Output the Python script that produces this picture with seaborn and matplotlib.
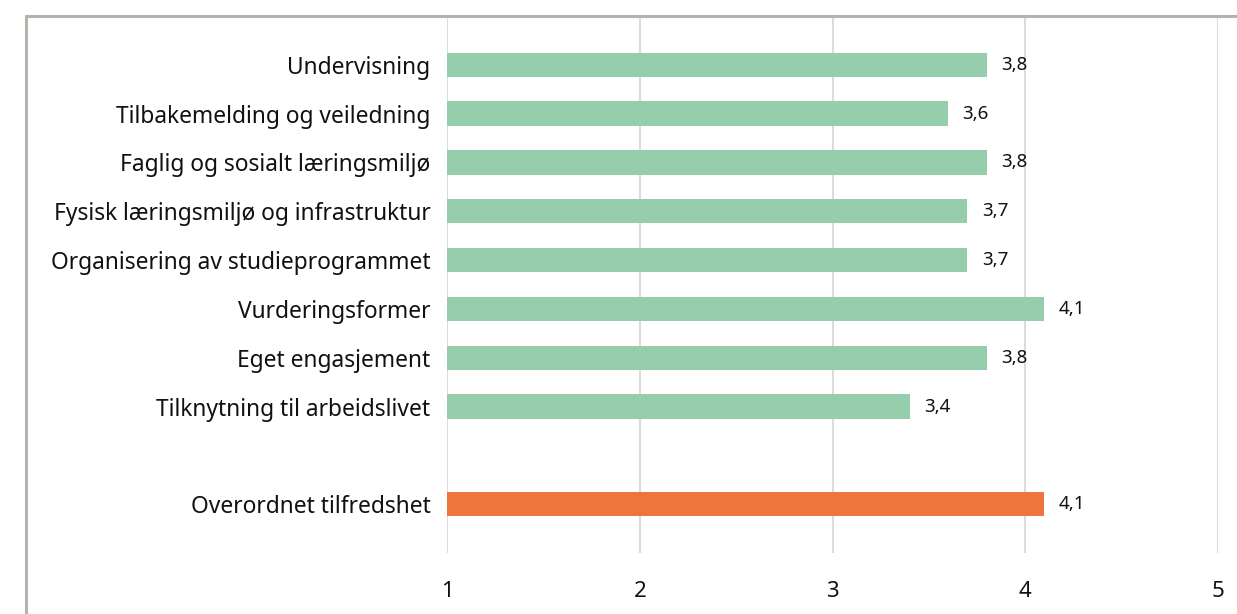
import matplotlib
matplotlib.use("Agg")
import matplotlib.pyplot as plt
from matplotlib.lines import Line2D
import seaborn as sns
import pandas as pd

# Survey satisfaction scores (scale 1-5)
categories = [
    "Undervisning",
    "Tilbakemelding og veiledning",
    "Faglig og sosialt læringsmiljø",
    "Fysisk læringsmiljø og infrastruktur",
    "Organisering av studieprogrammet",
    "Vurderingsformer",
    "Eget engasjement",
    "Tilknytning til arbeidslivet",
    " ",
    "Overordnet tilfredshet",
]
scores = [3.8, 3.6, 3.8, 3.7, 3.7, 4.1, 3.8, 3.4, None, 4.1]
groups = ["tema"] * 8 + ["tom", "total"]
x_ticks = [1, 2, 3, 4, 5]

GREEN = "#96cdad"
ORANGE = "#ee763c"
AXIS_MIN = 1

sns.set_theme(style="white")
plt.rcParams["font.family"] = ["Noto Sans", "DejaVu Sans"]

df = pd.DataFrame({"kategori": categories, "score": scores, "gruppe": groups})
# bars grow from the scale minimum (1), not from zero
df["lengde"] = df["score"] - AXIS_MIN

fig = plt.figure(figsize=(12.37, 6.14), dpi=100)
ax = fig.add_axes([0.3614, 0.0993, 0.6232, 0.8747])

sns.barplot(
    data=df, y="kategori", x="lengde", hue="gruppe", order=categories,
    palette={"tema": GREEN, "tom": GREEN, "total": ORANGE},
    width=0.5, dodge=False, legend=False, ax=ax, left=AXIS_MIN,
    saturation=1, edgecolor="none",
)

for i, v in enumerate(scores):
    if v is None:
        continue
    ax.text(v + 0.075, i, f"{v:.1f}".replace(".", ","), va="center", ha="left",
            fontsize=13.5, color="#111111")

ax.set_xlim(1, 5)
ax.set_ylim(10.0, -1.0)
ax.set_xticks(x_ticks)
ax.set_xticklabels([str(t) for t in x_ticks], fontsize=16, color="#111111")
ax.tick_params(axis="x", length=0, pad=20)
ax.tick_params(axis="y", length=0, pad=12, labelsize=16.4, labelcolor="#111111")
ax.set_xlabel("")
ax.set_ylabel("")
ax.grid(axis="x", color="#dcdcdc", linewidth=1.5)
ax.set_axisbelow(True)
for s in ax.spines.values():
    s.set_visible(False)

# outer frame (top and left edges)
frame_kw = dict(color="#b4b4ac", linewidth=2.2, transform=fig.transFigure)
fig.add_artist(Line2D([26 / 1237, 1.0], [1 - 16 / 614, 1 - 16 / 614], **frame_kw))
fig.add_artist(Line2D([26 / 1237, 26 / 1237], [0.0, 1 - 16 / 614], **frame_kw))

fig.savefig("out.png", dpi=100)
